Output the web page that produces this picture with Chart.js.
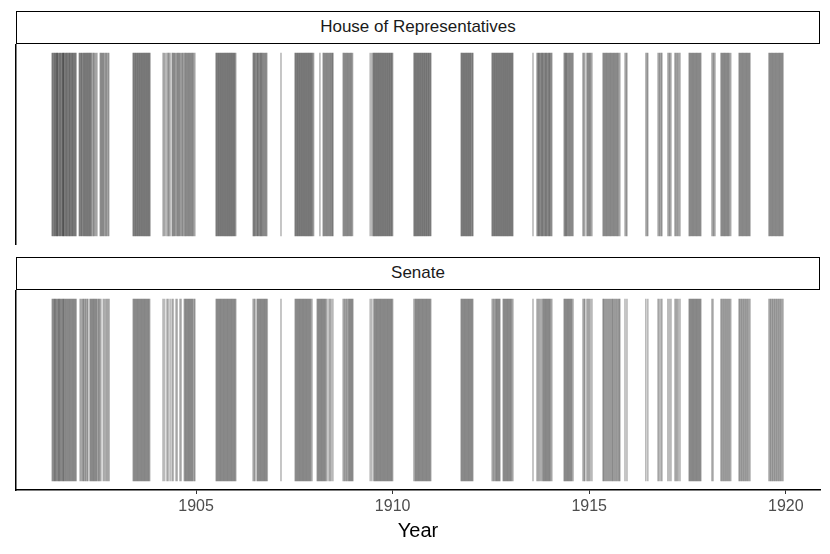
<!DOCTYPE html>
<html>
<head>
<meta charset="utf-8">
<script src="https://cdn.jsdelivr.net/npm/chart.js@4.4.0/dist/chart.umd.min.js"></script>
<style>
body { margin:0; background:#fff; width:830px; height:554px; position:relative; overflow:hidden; font-family:"Liberation Sans", Arial, sans-serif; }
.strip { position:absolute; left:16px; width:804px; height:33px; box-sizing:border-box; border:1.5px solid #000; text-align:center; line-height:30px; font-size:17px; color:#1a1a1a; }
.panel { position:absolute; left:0; width:830px; }
</style>
</head>
<body>
<div class="strip" id="strip1" style="top:11px"></div>
<div class="panel" style="top:44px;height:201px"><canvas id="house" width="830" height="201"></canvas></div>
<div class="strip" id="strip2" style="top:257px"></div>
<div class="panel" style="top:290px;height:264px"><canvas id="senate" width="830" height="264"></canvas></div>
<script>
// sitting days, as decimal years
var panelLabels = ["House of Representatives", "Senate"];
var tickYears = [1905, 1910, 1915, 1920];

var houseDates = [
  1901.34,1901.35,1901.37,1901.39,1901.40,1901.42,1901.43,1901.45,1901.46,1901.47,1901.48,1901.50,1901.52,1901.53,1901.55,1901.56,1901.58,1901.60,1901.61,1901.62,1901.63,1901.64,1901.66,1901.68,1901.69,1901.71,1901.72,1901.74,1901.76,1901.77,1901.79,1901.80,1901.82,1901.84,1901.85,1901.87,1901.88,1901.90,1901.92,1901.93,1901.95,
  1902.03,1902.04,1902.06,1902.08,1902.09,1902.11,1902.13,1902.15,1902.16,1902.18,1902.20,1902.21,1902.23,1902.25,1902.26,1902.28,1902.30,1902.31,1902.33,1902.35,
  1902.38,1902.40,1902.42,1902.45,1902.48,
  1902.56,1902.58,1902.60,1902.62,1902.64,1902.66,1902.69,1902.71,1902.73,1902.76,1902.78,
  1903.40,1903.41,1903.43,1903.45,1903.46,1903.48,1903.50,1903.51,1903.53,1903.55,1903.56,1903.58,1903.60,1903.61,1903.63,1903.65,1903.66,1903.68,1903.70,1903.71,1903.73,1903.75,1903.76,1903.78,1903.80,1903.81,1903.83,
  1904.16,1904.19,1904.22,1904.26,1904.29,1904.31,1904.34,1904.39,1904.41,1904.43,1904.45,1904.47,1904.50,1904.52,1904.54,1904.56,1904.58,1904.60,1904.63,1904.65,1904.67,1904.70,1904.72,1904.74,1904.76,1904.78,1904.80,1904.82,1904.84,1904.86,1904.88,1904.90,1904.92,1904.94,1904.97,
  1905.51,1905.52,1905.54,1905.56,1905.57,1905.59,1905.61,1905.62,1905.64,1905.66,1905.67,1905.69,1905.71,1905.72,1905.74,1905.76,1905.77,1905.79,1905.81,1905.82,1905.84,1905.86,1905.87,1905.89,1905.91,1905.92,1905.94,1905.96,1905.97,1905.99,1906.01,
  1906.45,1906.47,1906.48,1906.50,1906.52,1906.54,1906.56,1906.57,1906.59,1906.61,1906.63,1906.65,1906.66,1906.68,1906.70,1906.72,1906.74,1906.76,1906.78,1906.80,
  1907.16,
  1907.52,1907.53,1907.55,1907.57,1907.58,1907.60,1907.62,1907.63,1907.65,1907.67,1907.68,1907.70,1907.72,1907.73,1907.75,1907.77,1907.78,1907.80,1907.82,1907.83,1907.85,1907.87,1907.88,1907.90,1907.92,1907.93,1907.95,1907.97,1907.99,
  1908.15,1908.23,1908.25,1908.27,1908.29,1908.31,1908.33,1908.35,1908.37,1908.39,1908.41,1908.43,1908.45,1908.47,1908.48,
  1908.74,1908.76,1908.78,1908.80,1908.82,1908.84,1908.86,1908.88,1908.90,1908.92,1908.94,1908.96,1908.98,
  1909.43,1909.47,1909.50,1909.52,1909.53,1909.55,1909.57,1909.58,1909.60,1909.62,1909.63,1909.65,1909.67,1909.68,1909.70,1909.72,1909.73,1909.75,1909.77,1909.78,1909.80,1909.82,1909.83,1909.85,1909.87,1909.88,1909.90,1909.92,1909.93,1909.95,1909.97,1909.98,1910.00,
  1910.54,1910.56,1910.57,1910.59,1910.61,1910.62,1910.64,1910.66,1910.67,1910.69,1910.71,1910.72,1910.74,1910.76,1910.77,1910.79,1910.81,1910.82,1910.84,1910.86,1910.87,1910.89,1910.91,1910.92,1910.94,1910.96,1910.97,
  1911.74,1911.76,1911.77,1911.79,1911.81,1911.82,1911.84,1911.86,1911.87,1911.89,1911.91,1911.92,1911.94,1911.96,1911.97,1911.99,1912.01,1912.03,1912.04,
  1912.53,1912.54,1912.56,1912.58,1912.59,1912.61,1912.63,1912.64,1912.66,1912.68,1912.69,1912.71,1912.73,1912.74,1912.76,1912.78,1912.79,1912.81,1912.83,1912.84,1912.86,1912.88,1912.89,1912.91,1912.93,1912.94,1912.96,1912.98,1912.99,1913.01,1913.03,1913.04,1913.06,
  1913.57,1913.67,1913.69,1913.71,1913.72,1913.74,1913.76,1913.78,1913.80,1913.81,1913.83,1913.85,1913.87,1913.89,1913.90,1913.92,1913.94,1913.96,1913.98,1913.99,1914.01,1914.03,1914.05,
  1914.36,1914.38,1914.40,1914.41,1914.43,1914.45,1914.47,1914.49,1914.51,1914.53,1914.55,1914.57,1914.59,
  1914.84,1914.86,1914.89,1914.94,1914.96,1914.98,1915.00,1915.02,1915.04,1915.07,
  1915.35,1915.37,1915.39,1915.41,1915.43,1915.45,1915.47,1915.49,1915.51,1915.53,1915.55,1915.57,1915.59,1915.61,1915.63,1915.65,1915.67,1915.69,1915.71,1915.73,1915.75,1915.78,1915.91,1915.94,1915.96,
  1916.44,1916.47,1916.49,
  1916.75,1916.78,1916.80,1916.83,1916.85,1917.00,1917.03,1917.05,1917.08,1917.18,1917.20,1917.23,1917.25,1917.28,1917.31,
  1917.54,1917.56,1917.58,1917.60,1917.62,1917.64,1917.66,1917.68,1917.70,1917.72,1917.74,1917.76,1917.78,1917.80,1917.82,1917.84,
  1918.12,1918.15,1918.17,1918.20,1918.35,1918.37,1918.39,1918.41,1918.43,1918.45,1918.47,1918.49,1918.51,1918.53,1918.55,1918.57,1918.60,
  1918.81,1918.83,1918.85,1918.87,1918.89,1918.91,1918.93,1918.95,1918.97,1918.99,1919.01,1919.03,1919.05,1919.07,1919.09,
  1919.57,1919.59,1919.61,1919.63,1919.65,1919.67,1919.69,1919.71,1919.73,1919.75,1919.77,1919.79,1919.81,1919.83,1919.85,1919.87,1919.89,1919.91,1919.93
];

var senateDates = [
  1901.34,1901.36,1901.38,1901.40,1901.41,1901.43,1901.45,1901.47,1901.49,1901.51,1901.52,1901.54,1901.56,1901.58,1901.60,1901.62,1901.63,1901.65,1901.67,1901.69,1901.71,1901.73,1901.75,1901.77,1901.79,1901.81,1901.83,1901.85,1901.87,1901.89,1901.91,1901.93,1901.95,
  1902.05,1902.08,1902.11,1902.13,1902.15,1902.18,1902.20,1902.23,1902.25,1902.30,1902.32,1902.34,1902.36,1902.38,1902.40,1902.42,1902.44,1902.46,1902.48,1902.51,1902.53,1902.55,1902.58,1902.64,1902.67,1902.70,1902.73,1902.76,1902.79,
  1903.40,1903.42,1903.44,1903.46,1903.48,1903.50,1903.52,1903.54,1903.56,1903.58,1903.60,1903.62,1903.64,1903.66,1903.68,1903.70,1903.72,1903.74,1903.76,1903.78,1903.80,1903.82,
  1904.16,1904.20,1904.26,1904.29,1904.34,1904.39,1904.42,1904.49,1904.52,1904.59,1904.62,1904.70,1904.72,1904.74,1904.76,1904.78,1904.80,1904.82,1904.84,1904.86,1904.88,1904.90,1904.92,1904.95,1904.97,
  1905.51,1905.53,1905.55,1905.57,1905.59,1905.61,1905.63,1905.65,1905.67,1905.69,1905.71,1905.73,1905.75,1905.77,1905.79,1905.81,1905.83,1905.85,1905.87,1905.89,1905.91,1905.93,1905.95,1905.97,1905.99,1906.01,
  1906.45,1906.48,1906.50,1906.55,1906.57,1906.59,1906.61,1906.63,1906.65,1906.67,1906.69,1906.71,1906.73,1906.75,1906.77,1906.79,1906.81,
  1907.16,
  1907.52,1907.54,1907.56,1907.58,1907.60,1907.62,1907.64,1907.66,1907.68,1907.70,1907.72,1907.74,1907.76,1907.78,1907.80,1907.82,1907.84,1907.86,1907.88,1907.90,1907.92,1907.95,
  1908.08,1908.10,1908.12,1908.14,1908.16,1908.18,1908.20,1908.22,1908.24,1908.26,1908.28,1908.30,1908.33,1908.38,1908.41,1908.44,1908.48,
  1908.74,1908.77,1908.79,1908.82,1908.84,1908.87,1908.89,1908.91,1908.93,1908.95,1908.97,1908.99,
  1909.43,1909.47,1909.52,1909.54,1909.56,1909.58,1909.60,1909.62,1909.64,1909.66,1909.68,1909.70,1909.72,1909.74,1909.76,1909.78,1909.80,1909.82,1909.84,1909.86,1909.88,1909.90,1909.92,1909.94,1909.96,1909.98,1910.00,
  1910.54,1910.57,1910.59,1910.61,1910.63,1910.65,1910.67,1910.69,1910.71,1910.73,1910.75,1910.77,1910.79,1910.81,1910.83,1910.85,1910.87,1910.89,1910.91,1910.93,1910.95,1910.97,
  1911.74,1911.76,1911.78,1911.80,1911.82,1911.84,1911.86,1911.88,1911.90,1911.92,1911.94,1911.96,1911.98,1912.00,1912.02,1912.04,
  1912.53,1912.56,1912.58,1912.61,1912.63,1912.65,1912.67,1912.69,1912.71,1912.73,1912.81,1912.83,1912.85,1912.87,1912.89,1912.91,1912.93,1912.95,1912.97,1912.99,1913.01,1913.03,1913.06,
  1913.57,1913.67,1913.70,1913.73,1913.76,1913.79,1913.82,1913.84,1913.86,1913.88,1913.90,1913.92,1913.94,1913.96,1913.98,1914.00,1914.02,1914.05,
  1914.36,1914.38,1914.40,1914.42,1914.44,1914.46,1914.48,1914.50,1914.52,1914.54,1914.56,1914.59,
  1914.84,1914.87,1914.89,1914.94,1914.97,1915.00,1915.03,1915.07,
  1915.35,1915.37,1915.39,1915.42,1915.44,1915.47,1915.49,1915.52,1915.54,1915.57,1915.59,1915.61,1915.64,1915.66,1915.69,1915.71,1915.74,1915.76,1915.78,1915.91,1915.96,
  1916.44,1916.49,
  1916.75,1916.78,1916.82,1916.85,1917.00,1917.04,1917.08,1917.18,1917.21,1917.24,1917.27,1917.31,
  1917.54,1917.56,1917.58,1917.60,1917.62,1917.64,1917.66,1917.68,1917.70,1917.72,1917.74,1917.76,1917.78,1917.80,1917.82,1917.84,
  1918.12,1918.15,1918.35,1918.37,1918.40,1918.42,1918.45,1918.47,1918.50,1918.52,1918.55,1918.57,1918.60,
  1918.81,1918.83,1918.86,1918.88,1918.91,1918.93,1918.96,1918.98,1919.01,1919.03,1919.06,1919.09,
  1919.57,1919.60,1919.62,1919.65,1919.67,1919.70,1919.72,1919.75,1919.77,1919.80,1919.82,1919.85,1919.87,1919.90,1919.93
];

document.getElementById("strip1").textContent = panelLabels[0];
document.getElementById("strip2").textContent = panelLabels[1];

function makePanel(id, dates, showX) {
    var config =
    {
        type : "bar",
        data :
        {
            datasets: [
                {
                    data : dates.map(function (d) { return { x: d, y: [0, 1] }; }),
                    backgroundColor : "rgba(0,0,0,0.27)",
                    borderWidth : 0,
                    barThickness : 1,
                },
            ],
        },
        options :
        {
            responsive : false,
            animation : false,
            layout : { padding : { left: 16, right: 10, top: 0, bottom: 0 } },
            plugins : { legend : { display: false }, tooltip : { enabled: false } },
            scales :
            {
                x : {
                    type : "linear",
                    display : showX,
                    offset : false,
                    min : 1900.42,
                    max : 1920.87,
                    afterBuildTicks : function (scale) {
                        scale.ticks = tickYears.map(function (v) { return { value: v }; });
                    },
                    afterFit : function (scale) { scale.height = showX ? 64 : 0; },
                    grid : { offset: false, drawOnChartArea: false, drawTicks: true, tickLength: 4, color: "#333", lineWidth: 1 },
                    border : { display: true, color: "#000", width: 1.5 },
                    ticks : {
                        padding : 3,
                        color : "#4d4d4d",
                        font : { family: "Liberation Sans", size: 16 },
                        maxRotation : 0,
                        callback : function (v) { return String(v); },
                    },
                    title : {
                        display : true,
                        text : "Year",
                        color : "#000",
                        font : { family: "Liberation Sans", size: 20 },
                        padding : { top: 2, bottom: 11 },
                    },
                },
                y : {
                    min : -0.05,
                    max : 1.05,
                    ticks : { display: false },
                    grid : { display: false, drawTicks: false },
                    border : { display: true, color: "#000", width: 1.5 },
                },
            },
        },
    };
    return new Chart(document.getElementById(id), config);
}

makePanel("house", houseDates, false);
makePanel("senate", senateDates, true);
</script>
</body>
</html>
